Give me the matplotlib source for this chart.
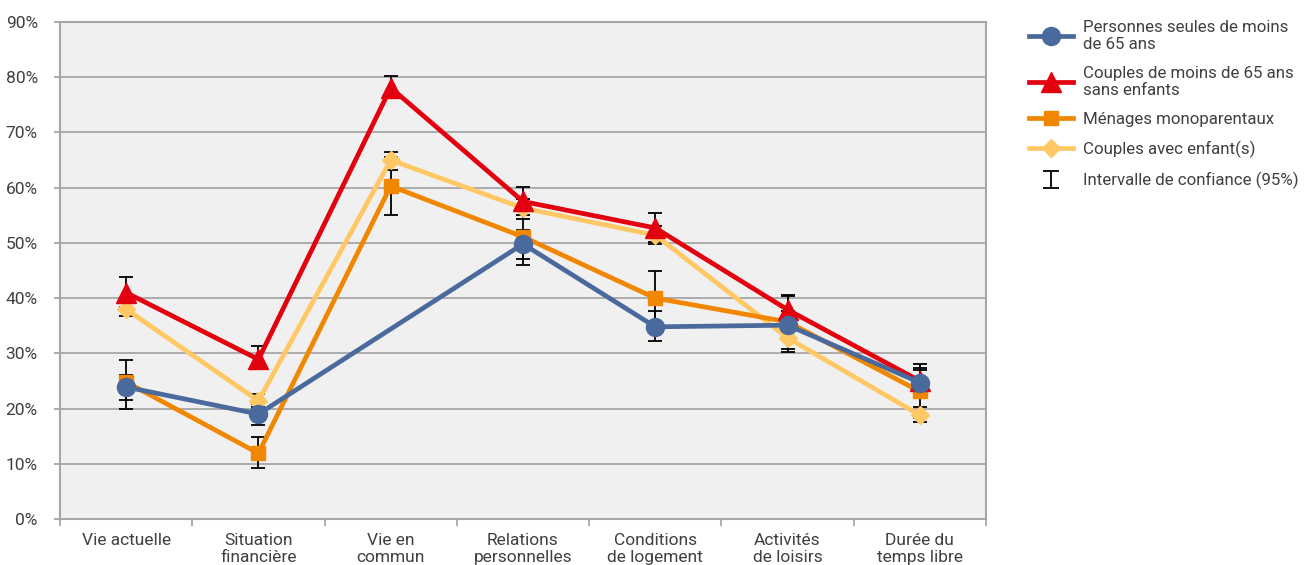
import matplotlib.pyplot as plt
import numpy as np
from matplotlib.ticker import FixedLocator, FuncFormatter

plt.rcParams['font.family'] = ['Roboto', 'DejaVu Sans']

categories = ["Vie actuelle", "Situation\nfinancière", "Vie en\ncommun",
              "Relations\npersonnelles", "Conditions\nde logement",
              "Activités\nde loisirs", "Durée du\ntemps libre"]

# values in %, nan = no value
seules = [23.9, 19.0, np.nan, 49.8, 34.8, 35.1, 24.7]
seules_lo = [21.6, 17.0, np.nan, 47.1, 32.3, 32.5, 22.5]
seules_hi = [26.1, 20.9, np.nan, 52.4, 37.6, 37.7, 27.0]

couples_sans = [41.0, 28.9, 78.1, 57.5, 52.7, 37.9, 25.0]
couples_sans_lo = [38.4, 27.1, 76.3, 55.0, 50.1, 35.5, 22.6]
couples_sans_hi = [43.8, 31.3, 80.3, 60.2, 55.4, 40.3, 27.3]

monoparent = [24.8, 11.9, 60.3, 51.1, 40.0, 35.7, 23.1]
monoparent_lo = [20.0, 9.2, 55.1, 46.0, 35.1, 30.7, 18.3]
monoparent_hi = [28.8, 14.8, 65.5, 55.7, 44.9, 40.6, 28.0]

couples_enf = [38.0, 21.4, 65.0, 56.3, 51.4, 32.8, 18.8]
couples_enf_lo = [36.7, 20.2, 63.2, 54.3, 49.8, 30.3, 17.6]
couples_enf_hi = [39.2, 22.6, 66.4, 58.0, 53.1, 35.3, 20.2]

labels = ["Personnes seules de moins\nde 65 ans",
          "Couples de moins de 65 ans\nsans enfants",
          "Ménages monoparentaux",
          "Couples avec enfant(s)"]

series = [
    (seules, seules_lo, seules_hi, '#4A699C', 'o', 13),
    (couples_sans, couples_sans_lo, couples_sans_hi, '#E3000F', '^', 14),
    (monoparent, monoparent_lo, monoparent_hi, '#F18700', 's', 10),
    (couples_enf, couples_enf_lo, couples_enf_hi, '#FFC864', 'D', 9),
]
draw_order = [3, 2, 1, 0]

fig = plt.figure(figsize=(13.09, 5.65), dpi=100)
ax = fig.add_axes([60/1309, 46/565, 926/1309, 497/565])
ax.set_facecolor('#F0F0F0')

x = np.arange(len(categories))
handles = [None] * 4
for i in draw_order:
    vals, lo, hi, col, mk, ms = series[i]
    v = np.array(vals, dtype=float)
    lo = np.array(lo, dtype=float)
    hi = np.array(hi, dtype=float)
    ok = ~np.isnan(v)
    ax.errorbar(x[ok], v[ok], yerr=[v[ok] - lo[ok], hi[ok] - v[ok]], fmt='none',
                ecolor='black', elinewidth=1.3, capsize=5, capthick=1.3, zorder=2)
    line, = ax.plot(x[ok], v[ok], color=col, lw=3.4, marker=mk, ms=ms,
                    mec=col, mfc=col, zorder=3 + (3 - i), label=labels[i])
    handles[i] = line

eb = ax.errorbar([np.nan], [np.nan], yerr=[[1], [1]], fmt='none', ecolor='black',
                 elinewidth=1.3, capsize=5.5, capthick=1.3,
                 label="Intervalle de confiance (95%)")

ax.set_xlim(-0.5, 6.5)
ax.set_ylim(0, 90)
ax.set_yticks(np.arange(0, 91, 10))
ax.yaxis.set_major_formatter(FuncFormatter(lambda v, p: f"{v:.0f}%"))
ax.grid(axis='y', color='#A6A6A6', lw=1.3)
ax.set_axisbelow(True)

ax.set_xticks(x)
ax.set_xticklabels(categories, linespacing=1.15)
ax.xaxis.set_minor_locator(FixedLocator(np.arange(-0.5, 7, 1)))
ax.tick_params(axis='x', which='major', length=0, pad=10, labelsize=12.5, colors='#404040')
ax.tick_params(axis='x', which='minor', length=5, color='#A6A6A6', width=1.3)
ax.tick_params(axis='y', length=4, color='#A6A6A6', width=1.3, labelsize=12.5,
               colors='#404040', pad=12)
for s in ax.spines.values():
    s.set_color('#A6A6A6')
    s.set_linewidth(1.5)

leg = fig.legend(handles=handles + [eb], loc='upper left',
                 bbox_to_anchor=(1014/1309, 1 - 5/565), frameon=False,
                 fontsize=12.2, handlelength=2.6, handletextpad=0.6,
                 labelspacing=0.82, labelcolor='#404040')
for t in leg.get_texts():
    t.set_linespacing(1.15)

fig.savefig('out.png', dpi=100)
